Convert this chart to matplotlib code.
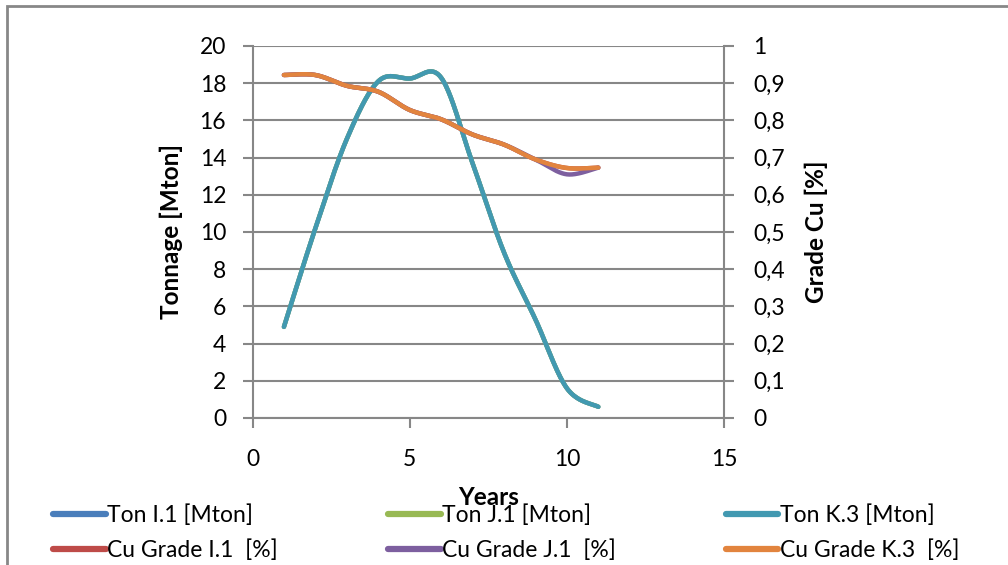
import numpy as np
import matplotlib
matplotlib.use("Agg")
import matplotlib.pyplot as plt
from matplotlib.patches import Rectangle

plt.rcParams['font.family'] = ['Lato', 'DejaVu Sans']

years = [1, 2, 3, 4, 5, 6, 7, 8, 9, 10, 11]
ton_i1 = [4.9, 10.2, 15.0, 18.1, 18.25, 18.3, 13.7, 8.9, 5.3, 1.6, 0.6]
ton_j1 = [4.9, 10.2, 15.0, 18.1, 18.25, 18.3, 13.7, 8.9, 5.3, 1.6, 0.6]
ton_k3 = [4.9, 10.2, 15.0, 18.1, 18.25, 18.3, 13.7, 8.9, 5.3, 1.6, 0.6]
cu_i1 = [0.922, 0.922, 0.893, 0.877, 0.828, 0.803, 0.762, 0.735, 0.695, 0.672, 0.673]
cu_j1 = [0.922, 0.922, 0.893, 0.877, 0.828, 0.803, 0.762, 0.735, 0.695, 0.655, 0.673]
cu_k3 = [0.922, 0.922, 0.893, 0.877, 0.828, 0.803, 0.762, 0.735, 0.695, 0.672, 0.673]

left_ticks = [0, 2, 4, 6, 8, 10, 12, 14, 16, 18, 20]
right_ticks = [0, 0.1, 0.2, 0.3, 0.4, 0.5, 0.6, 0.7, 0.8, 0.9, 1.0]
right_labels = ["0", "0,1", "0,2", "0,3", "0,4", "0,5", "0,6", "0,7", "0,8", "0,9", "1"]
x_ticks = [0, 5, 10, 15]

GRID = "#878787"
FS = 16.5


def smooth(xs, ys, n=40):
    """Spreadsheet-style smoothed line: cubic Bezier segments with
    Catmull-Rom control points."""
    p = np.column_stack([xs, ys]).astype(float)
    ext = np.vstack([p[0], p, p[-1]])
    out = []
    t = np.linspace(0, 1, n)[:, None]
    for i in range(len(p) - 1):
        p0, p3 = ext[i + 1], ext[i + 2]
        c1 = p0 + (ext[i + 2] - ext[i]) / 6.0
        c2 = p3 - (ext[i + 3] - ext[i + 1]) / 6.0
        seg = ((1 - t) ** 3) * p0 + 3 * ((1 - t) ** 2) * t * c1 \
            + 3 * (1 - t) * t ** 2 * c2 + t ** 3 * p3
        out.append(seg if i == 0 else seg[1:])
    s = np.vstack(out)
    return s[:, 0], s[:, 1]


fig = plt.figure(figsize=(10.08, 5.65), dpi=100)
ax = fig.add_axes([0.2505, 0.2602, 0.4678, 0.6584])
ax2 = ax.twinx()

lw = 3.2
series_ton = [("Ton I.1 [Mton]", ton_i1, "#4A7EBB"),
              ("Ton J.1 [Mton]", ton_j1, "#98B954"),
              ("Ton K.3 [Mton]", ton_k3, "#4299B1")]
series_cu = [("Cu Grade I.1  [%]", cu_i1, "#BE4B48"),
             ("Cu Grade J.1  [%]", cu_j1, "#7D5F9F"),
             ("Cu Grade K.3  [%]", cu_k3, "#E2843E")]

handles_ton = []
for name, vals, col in series_ton:
    sx, sy = smooth(years, vals)
    h, = ax.plot(sx, sy, color=col, lw=lw, solid_capstyle='round', label=name)
    handles_ton.append(h)
handles_cu = []
for name, vals, col in series_cu:
    sx, sy = smooth(years, vals)
    h, = ax2.plot(sx, sy, color=col, lw=lw, solid_capstyle='round', label=name)
    handles_cu.append(h)

ax.set_xlim(0, 15)
ax.set_ylim(0, 20)
ax2.set_ylim(0, 1)
ax.set_xticks(x_ticks)
ax.set_yticks(left_ticks)
ax2.set_yticks(right_ticks)
ax2.set_yticklabels(right_labels)

ax.yaxis.grid(True, color=GRID, lw=1.5)
ax.set_axisbelow(True)
for a in (ax, ax2):
    for side in ("top", "bottom", "left", "right"):
        a.spines[side].set_visible(False)
ax.spines["left"].set_visible(True)
ax.spines["bottom"].set_visible(True)
ax2.spines["right"].set_visible(True)
for sp in (ax.spines["left"], ax.spines["bottom"], ax2.spines["right"]):
    sp.set_color(GRID)
    sp.set_linewidth(1.5)

ax.tick_params(axis='y', direction='out', length=7, width=1.5, color=GRID,
               labelsize=FS, pad=12)
ax.tick_params(axis='x', direction='out', length=7, width=1.5, color=GRID,
               labelsize=FS, pad=15)
ax2.tick_params(axis='y', direction='out', length=7, width=1.5, color=GRID,
                labelsize=FS, pad=14)

ax.set_ylabel("Tonnage [Mton]", fontsize=17.5, fontweight='bold', labelpad=12)
ax2.set_ylabel("Grade Cu [%]", fontsize=17.5, fontweight='bold', labelpad=14)
ax.set_xlabel("Years", fontsize=17.5, fontweight='bold', labelpad=12)

order = [handles_ton[0], handles_cu[0], handles_ton[1], handles_cu[1],
         handles_ton[2], handles_cu[2]]
fig.legend(handles=order, labels=[h.get_label() for h in order], ncol=3,
           loc='upper left', bbox_to_anchor=(0.053, 0.108), frameon=False,
           fontsize=FS, handlelength=2.3, handletextpad=0.05,
           columnspacing=4.8, labelspacing=0.62, borderaxespad=0,
           borderpad=0)
for lh in fig.legends[0].legend_handles:
    lh.set_linewidth(4.5)

fig.patches.append(Rectangle((7 / 1008, -0.1), 1.2, 1.1 - 6 / 565,
                             transform=fig.transFigure, fill=False,
                             edgecolor=GRID, lw=2))

fig.savefig("out.png", dpi=100)
